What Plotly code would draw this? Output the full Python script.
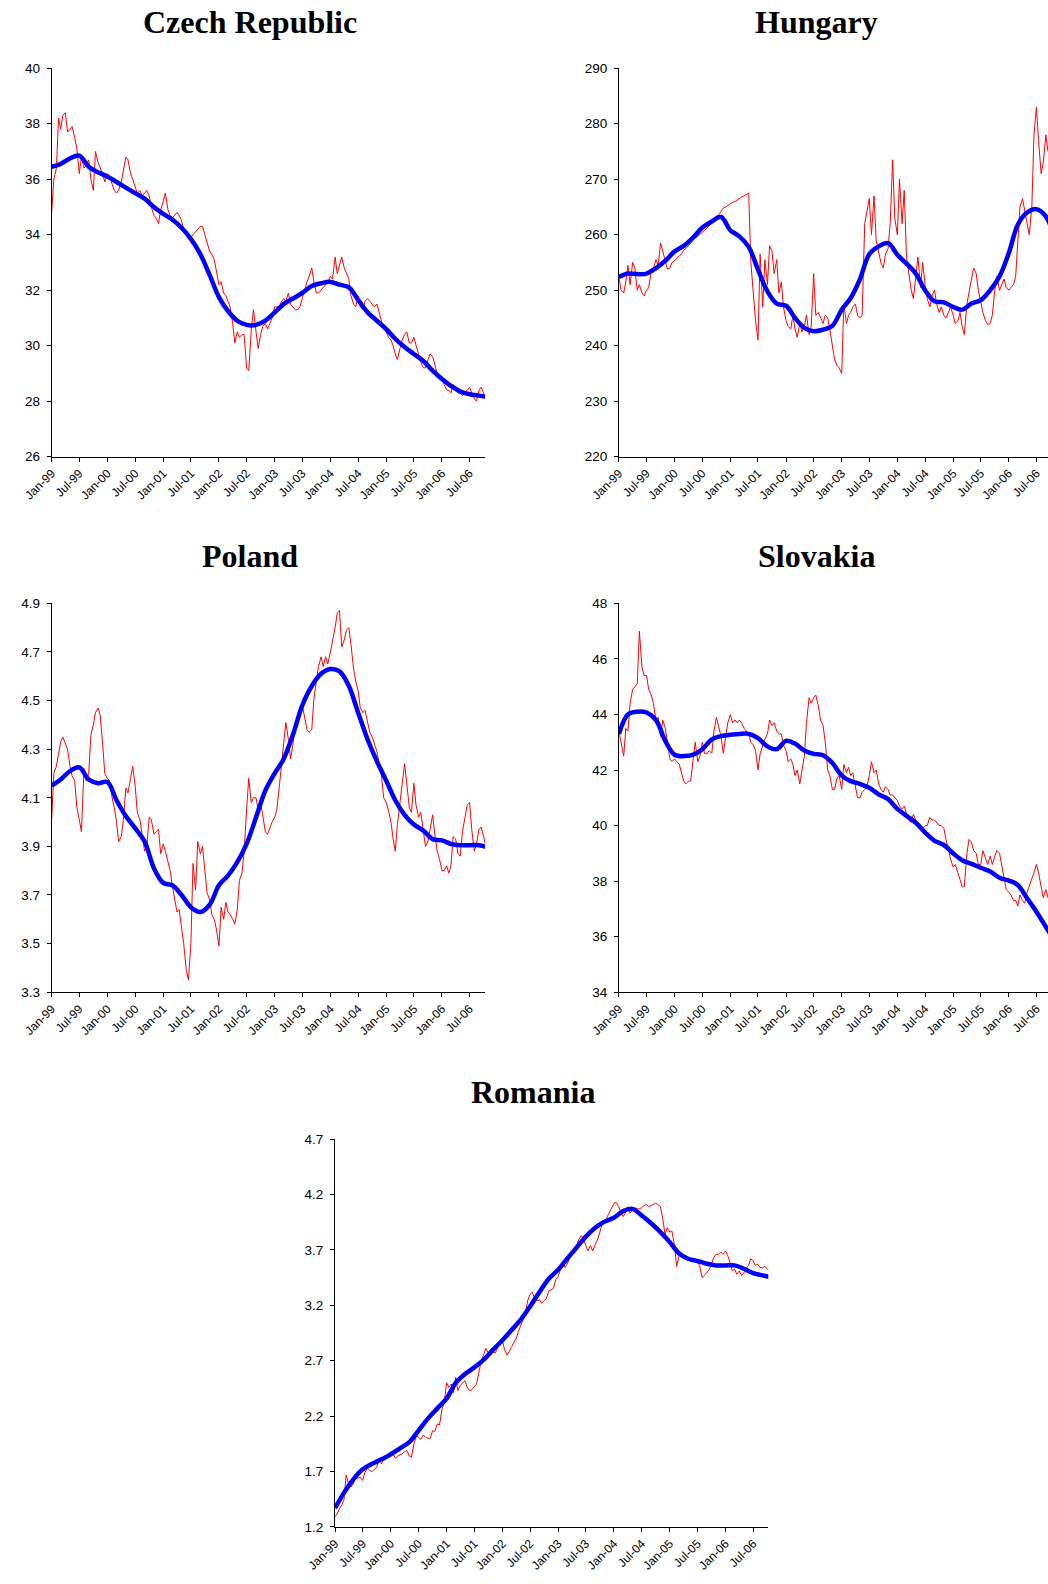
import pandas as pd
import plotly.graph_objects as go

# dates the values were read at: daily rate twice a month, trend every two months
rate_dates = pd.date_range("1999-01-01", periods=188, freq="SMS")
trend_dates = pd.date_range("1999-01-01", periods=48, freq="2MS")

countries = ["Czech Republic", "Hungary", "Poland", "Slovakia", "Romania"]

czech_rate = [
    34.8, 36.0, 36.4, 38.2, 37.8, 38.3, 38.4, 37.7, 37.8, 37.9, 37.5, 37.1,
    36.2, 36.8, 36.4, 36.5, 36.7, 36.0, 35.6, 37.0, 36.6, 36.4, 36.2, 35.9,
    36.2, 36.1, 35.8, 35.6, 35.5, 35.6, 35.9, 36.3, 36.8, 36.7, 36.2, 36.0,
    35.7, 35.5, 35.6, 35.4, 35.5, 35.6, 35.4, 35.0, 34.7, 34.6, 34.4, 34.9,
    35.2, 35.5, 34.9, 34.7, 34.6, 34.7, 34.8, 34.7, 34.5, 34.2, 34.0, 33.9,
    33.9, 34.0, 34.1, 34.2, 34.3, 34.3, 34.0, 33.7, 33.4, 33.3, 33.1, 32.7,
    32.2, 32.3, 31.9, 31.8, 31.6, 31.4, 30.8, 30.1, 30.5, 30.3, 30.4, 30.4,
    29.2, 29.1, 30.6, 31.3, 30.5, 29.9, 30.4, 30.7, 30.8, 30.6, 30.8, 31.0,
    31.4, 31.4, 31.4, 31.6, 31.7, 31.6, 31.9, 31.5, 31.4, 31.3, 31.3, 31.4,
    31.7, 32.0, 32.3, 32.5, 32.8, 32.3, 31.9, 31.9, 32.0, 32.1, 32.2, 32.3,
    32.5, 32.4, 33.2, 32.6, 32.9, 33.2, 32.8, 32.6, 32.4, 31.8, 31.5, 31.4,
    31.8, 31.4, 31.3, 31.6, 31.7, 31.6, 31.5, 31.4, 31.5, 31.2, 30.9, 30.6,
    30.5, 30.3, 30.2, 30.0, 29.7, 29.5, 29.9, 30.2, 30.4, 30.5, 30.1, 30.1,
    30.3, 30.0, 29.7, 29.4, 29.2, 29.2, 29.5, 29.7, 29.6, 29.3, 29.0, 28.9,
    28.8, 28.6, 28.4, 28.4, 28.3, 28.6, 28.5, 28.3, 28.3, 28.2, 28.3, 28.4,
    28.5, 28.3, 28.1, 28.0, 28.4, 28.5, 28.3, 28.1,
]
czech_trend = [
    36.45, 36.55, 36.75, 36.85, 36.45, 36.25, 36.1, 35.9, 35.7, 35.5, 35.3, 35.0,
    34.75, 34.55, 34.25, 33.85, 33.3, 32.55, 31.75, 31.25, 30.9, 30.75, 30.75, 30.9,
    31.2, 31.5, 31.7, 31.9, 32.15, 32.25, 32.3, 32.2, 32.1, 31.65, 31.2, 30.9,
    30.6, 30.25, 29.95, 29.7, 29.45, 29.1, 28.8, 28.55, 28.35, 28.25, 28.2, 28.15,
]

hungary_rate = [
    252.4, 250.0, 249.5, 251.5, 254.5, 251.0, 255.0, 254.0, 250.0, 251.0, 249.5, 249.0,
    250.0, 250.5, 253.5, 254.0, 255.5, 254.5, 258.5, 257.0, 255.0, 253.8, 254.0, 255.0,
    255.3, 255.8, 256.2, 256.5, 257.2, 257.5, 258.0, 258.6, 259.0, 259.4, 259.7, 260.0,
    260.4, 260.8, 261.2, 261.6, 262.2, 263.0, 263.4, 263.5, 264.2, 264.8, 265.0, 265.3,
    265.5, 265.8, 266.0, 266.3, 266.5, 266.8, 267.0, 267.2, 267.5, 255.0, 249.0, 244.5,
    241.0, 256.5, 247.0, 255.5, 251.0, 258.0, 257.0, 253.0, 255.5, 249.5, 251.5, 247.0,
    244.5, 243.5, 243.0, 245.5, 243.0, 241.5, 244.0, 242.5, 243.5, 245.5, 242.0, 243.5,
    253.0, 245.5, 246.0, 245.0, 244.0, 245.5, 245.0, 243.0, 240.0, 237.5, 236.5, 236.0,
    235.0, 247.5, 244.0, 245.5, 246.0, 247.0, 247.5, 245.5, 245.0, 245.5, 262.0, 264.0,
    266.5, 260.0, 267.0, 259.0, 257.0, 255.0, 254.0, 256.5, 257.5, 262.0, 273.5, 263.0,
    260.0, 270.0, 262.0, 268.0, 256.0, 253.0, 250.0, 248.5, 252.0, 256.0, 250.5, 255.0,
    251.0, 248.5, 247.0, 249.0, 250.0, 247.5, 246.0, 247.0, 245.5, 245.0, 246.0, 247.0,
    245.5, 244.0, 244.5, 246.0, 243.5, 242.0, 247.5, 250.0, 252.0, 254.0, 253.0, 250.0,
    247.5, 246.0, 244.5, 243.8, 244.0, 245.5, 250.0, 252.5, 250.0, 251.0, 252.0, 250.5,
    250.0, 250.5, 251.0, 252.5, 258.0, 265.0, 266.5, 264.0, 262.0, 260.0, 265.0, 278.0,
    283.0, 277.0, 271.0, 273.0, 278.0, 275.0, 275.0, 275.0,
]
hungary_trend = [
    252.4, 253.0, 252.9, 253.0, 254.0, 255.3, 257.0, 258.0, 259.5, 261.3, 262.4, 263.2,
    260.8, 259.7, 257.8, 253.7, 249.8, 247.6, 247.2, 245.0, 243.2, 242.6, 242.9, 243.6,
    246.5, 248.6, 252.0, 256.5, 257.9, 258.5, 256.4, 254.8, 253.0, 250.0, 248.0, 247.8,
    247.0, 246.5, 247.6, 248.2, 250.0, 252.5, 256.7, 261.8, 264.0, 264.6, 263.3, 259.0,
]

poland_rate = [
    4.01, 4.20, 4.23, 4.29, 4.33, 4.35, 4.32, 4.30, 4.23, 4.19, 4.17, 4.06,
    4.01, 3.96, 4.22, 4.17, 4.20, 4.36, 4.40, 4.45, 4.47, 4.44, 4.32, 4.20,
    4.18, 4.17, 4.10, 4.06, 4.00, 3.92, 3.94, 4.01, 4.14, 4.12, 4.18, 4.23,
    4.15, 4.04, 4.01, 3.95, 3.88, 3.90, 4.02, 4.01, 3.95, 3.96, 3.97, 3.87,
    3.91, 3.88, 3.83, 3.80, 3.74, 3.69, 3.63, 3.64, 3.56, 3.50, 3.39, 3.35,
    3.50, 3.83, 3.72, 3.92, 3.87, 3.90, 3.80, 3.71, 3.68, 3.62, 3.60, 3.56,
    3.49, 3.65, 3.60, 3.67, 3.63, 3.62, 3.60, 3.58, 3.64, 3.76, 3.79, 3.88,
    4.05, 4.18, 4.08, 4.10, 4.10, 4.05, 4.08, 4.02, 3.96, 3.95, 3.98, 4.00,
    4.02, 4.05, 4.15, 4.24, 4.34, 4.41, 4.34, 4.26, 4.32, 4.40, 4.44, 4.47,
    4.48, 4.43, 4.38, 4.37, 4.38, 4.51, 4.58, 4.64, 4.68, 4.64, 4.68, 4.65,
    4.70, 4.74, 4.80, 4.86, 4.87, 4.72, 4.75, 4.79, 4.80, 4.73, 4.63, 4.58,
    4.54, 4.47, 4.45, 4.46, 4.41, 4.37, 4.35, 4.32, 4.29, 4.24, 4.19, 4.10,
    4.08, 4.05, 4.00, 3.93, 3.88, 3.99, 4.09, 4.17, 4.24, 4.16, 4.06, 4.04,
    4.16, 4.07, 4.02, 4.04, 3.96, 3.90, 3.92, 3.97, 4.03, 3.95, 3.88, 3.85,
    3.80, 3.80, 3.82, 3.79, 3.82, 3.94, 3.93, 3.87, 3.86, 3.96, 4.03, 4.07,
    4.08, 3.97, 3.88, 3.91, 3.97, 3.98, 3.94, 3.90,
]
poland_trend = [
    4.15, 4.175, 4.21, 4.225, 4.175, 4.16, 4.165, 4.09, 4.025, 3.975, 3.92, 3.81,
    3.75, 3.74, 3.70, 3.65, 3.63, 3.66, 3.74, 3.78, 3.835, 3.91, 4.02, 4.13,
    4.20, 4.26, 4.36, 4.48, 4.56, 4.61, 4.63, 4.62, 4.56, 4.45, 4.34, 4.25,
    4.17, 4.09, 4.03, 3.99, 3.965, 3.93, 3.925, 3.91, 3.905, 3.905, 3.905, 3.895,
]

slovakia_rate = [
    43.4, 43.0, 42.5, 43.5, 43.4, 44.4, 44.9, 45.0, 45.1, 47.0, 45.7, 45.4,
    45.4, 44.9, 44.7, 44.4, 43.8, 43.9, 43.2, 43.8, 43.5, 43.0, 42.4, 42.3,
    42.4, 42.3, 42.2, 41.9, 41.6, 41.5, 41.6, 41.6, 42.3, 43.0, 42.3, 42.5,
    43.0, 42.6, 42.6, 42.7, 42.6, 43.4, 43.9, 43.6, 43.2, 42.6, 43.2, 43.7,
    44.0, 43.7, 43.8, 43.7, 43.8, 43.7, 43.5, 43.4, 43.3, 43.0, 42.9, 42.7,
    42.0, 42.6, 42.9, 43.1, 43.3, 43.8, 43.6, 43.7, 43.4, 43.3, 43.3, 42.9,
    42.7, 42.3, 42.4, 42.2, 41.8, 42.0, 41.5, 41.9, 42.5, 43.7, 44.6, 44.4,
    44.6, 44.7, 44.3, 43.8, 43.6, 43.0, 42.0, 41.8, 41.3, 41.3, 41.7, 41.8,
    41.3, 42.2, 41.9, 42.1, 41.8, 41.9, 41.4, 41.0, 41.0, 41.2, 41.3, 41.4,
    41.8, 42.3, 41.9, 42.0, 41.5, 41.3, 41.2, 41.4, 41.3, 41.1, 41.1, 41.0,
    40.9, 40.7, 40.6, 40.7, 40.4, 40.2, 40.1, 40.4, 40.2, 40.0, 39.9, 39.9,
    40.0, 40.0, 40.3, 40.2, 40.2, 40.1, 40.0, 40.0, 39.9, 39.5, 39.1, 38.8,
    38.5, 38.6, 38.3, 38.0, 37.8, 37.8, 39.0, 39.5, 39.4, 39.1, 39.0, 38.6,
    38.6, 39.1, 38.8, 38.6, 38.9, 38.6, 38.9, 39.1, 39.0, 38.6, 38.1, 37.7,
    37.6, 37.5, 37.3, 37.3, 37.1, 37.5, 37.3, 37.2, 37.6, 37.8, 38.1, 38.3,
    38.6, 38.3, 37.8, 37.4, 37.7, 37.4, 37.5, 37.5,
]
slovakia_trend = [
    43.3, 44.0, 44.1, 44.07, 43.8, 43.05, 42.55, 42.5, 42.55, 42.75, 43.1, 43.22,
    43.27, 43.3, 43.3, 43.15, 42.85, 42.75, 43.05, 42.95, 42.7, 42.58, 42.53, 42.25,
    41.8, 41.6, 41.5, 41.36, 41.12, 40.95, 40.6, 40.35, 40.1, 39.75, 39.45, 39.3,
    39.0, 38.75, 38.62, 38.48, 38.35, 38.12, 38.02, 37.86, 37.38, 36.9, 36.35, 35.8,
]

romania_rate = [
    1.29, 1.32, 1.37, 1.40, 1.45, 1.67, 1.58, 1.56, 1.59, 1.65, 1.64, 1.65,
    1.62, 1.69, 1.73, 1.71, 1.70, 1.72, 1.74, 1.82, 1.77, 1.81, 1.84, 1.85,
    1.88, 1.86, 1.82, 1.84, 1.85, 1.86, 1.88, 1.89, 1.84, 1.83, 1.95, 2.02,
    2.01, 1.99, 2.03, 2.01, 2.00, 2.00, 2.07, 2.06, 2.13, 2.12, 2.26, 2.32,
    2.50, 2.46, 2.49, 2.41, 2.55, 2.43, 2.48, 2.50, 2.52, 2.46, 2.43, 2.44,
    2.47, 2.49, 2.60, 2.70, 2.76, 2.81, 2.77, 2.78, 2.78, 2.77, 2.82, 2.87,
    2.88, 2.80, 2.75, 2.78, 2.82, 2.86, 2.90, 2.96, 3.02, 3.08, 3.13, 3.24,
    3.30, 3.32, 3.26, 3.24, 3.25, 3.22, 3.24, 3.26, 3.33, 3.34, 3.35, 3.43,
    3.46, 3.52, 3.59, 3.54, 3.57, 3.62, 3.68, 3.71, 3.74, 3.79, 3.83, 3.80,
    3.75, 3.69, 3.74, 3.69, 3.75, 3.79, 3.86, 3.93, 3.95, 3.99, 4.03, 4.07,
    4.12, 4.13, 4.09, 4.04, 4.00, 4.03, 4.09, 4.03, 4.06, 4.08, 4.07, 4.07,
    4.08, 4.10, 4.11, 4.09, 4.10, 4.11, 4.12, 4.11, 4.09, 3.99, 3.84, 3.90,
    3.86, 3.87, 3.74, 3.55, 3.64, 3.66, 3.63, 3.62, 3.61, 3.62, 3.61, 3.60,
    3.59, 3.56, 3.45, 3.47, 3.50, 3.52, 3.57, 3.63, 3.66, 3.66, 3.68, 3.66,
    3.69, 3.65, 3.58, 3.51, 3.53, 3.48, 3.51, 3.47, 3.49, 3.53, 3.56, 3.62,
    3.60, 3.56, 3.57, 3.54, 3.54, 3.55, 3.53, 3.51,
]
romania_trend = [
    1.37, 1.51, 1.63, 1.72, 1.77, 1.81, 1.855, 1.91, 1.965, 2.07, 2.18, 2.27,
    2.36, 2.50, 2.58, 2.64, 2.71, 2.80, 2.885, 2.975, 3.07, 3.19, 3.32, 3.44,
    3.52, 3.62, 3.72, 3.82, 3.90, 3.955, 3.99, 4.05, 4.07, 4.01, 3.94, 3.86,
    3.77, 3.67, 3.62, 3.60, 3.575, 3.56, 3.56, 3.56, 3.53, 3.49, 3.47, 3.45,
]

rates = [czech_rate, hungary_rate, poland_rate, slovakia_rate, romania_rate]
trends = [czech_trend, hungary_trend, poland_trend, slovakia_trend, romania_trend]
y_ranges = [(26, 40, 2), (220, 290, 10), (3.3, 4.9, 0.2), (34, 48, 2), (1.2, 4.7, 0.5)]
y_formats = ["d", "d", ".1f", "d", ".1f"]

# panel placement (paper fractions) and where each date axis stops
x_domains = [[0.0493, 0.4628], [0.5906, 1.0], [0.0493, 0.4628], [0.5906, 1.0], [0.3197, 0.7331]]
y_domains = [[0.7117, 0.9569], [0.7117, 0.9569], [0.3736, 0.6191], [0.3736, 0.6191], [0.0360, 0.2809]]
x_ends = ["2006-10-10", "2006-09-15", "2006-10-10", "2006-09-15", "2006-10-08"]
title_pos = [(0.2385, 0.9862), (0.7793, 0.9862), (0.2385, 0.6487), (0.7793, 0.6487), (0.5086, 0.3107)]

y_tick_font = dict(family="Arial, Liberation Sans, sans-serif", size=13.5, color="black")
x_tick_font = dict(family="Arial, Liberation Sans, sans-serif", size=12, color="black")

fig = go.Figure()
layout = {}
annotations = []

for i, name in enumerate(countries):
    n = "" if i == 0 else str(i + 1)
    fig.add_trace(go.Scatter(
        x=rate_dates, y=rates[i], mode="lines", name=name,
        line=dict(color="#FF0000", width=1),
        xaxis="x" + n, yaxis="y" + n, showlegend=False,
    ))
    fig.add_trace(go.Scatter(
        x=trend_dates, y=trends[i], mode="lines", name=name + " trend",
        line=dict(color="#0000FF", width=4.5, shape="spline", smoothing=1.0),
        xaxis="x" + n, yaxis="y" + n, showlegend=False,
    ))
    lo, hi, step = y_ranges[i]
    layout["xaxis" + n] = dict(
        domain=x_domains[i], anchor="y" + n, type="date", automargin=False,
        range=["1999-01-01", x_ends[i]],
        tick0="1999-01-01", dtick="M6", tickformat="%b-%y", tickangle=-45,
        showline=True, linecolor="black", linewidth=1,
        ticks="outside", ticklen=4, tickcolor="black",
        showgrid=False, zeroline=False, tickfont=x_tick_font,
    )
    layout["yaxis" + n] = dict(
        domain=y_domains[i], anchor="x" + n, automargin=False,
        range=[lo, hi], tick0=lo, dtick=step, tickformat=y_formats[i],
        showline=True, linecolor="black", linewidth=1,
        ticks="outside", ticklen=4, tickcolor="black", ticklabelstandoff=4,
        showgrid=False, zeroline=False, tickfont=y_tick_font,
    )
    tx, ty = title_pos[i]
    annotations.append(dict(
        text="<b>" + name + "</b>", x=tx, y=ty, xref="paper", yref="paper",
        xanchor="center", yanchor="middle", showarrow=False,
        font=dict(family="Times New Roman, Liberation Serif, serif", size=32, color="black"),
    ))

fig.update_layout(
    template="none",
    width=1048, height=1584,
    margin=dict(l=0, r=0, t=0, b=0, autoexpand=False),
    paper_bgcolor="white", plot_bgcolor="white",
    annotations=annotations,
    **layout,
)

# drop the browser's default page margin so the figure fills the window, no toolbar
fig.write_html(
    "out.html",
    config={"displayModeBar": False},
    post_script="document.body.style.margin = '0';",
)
